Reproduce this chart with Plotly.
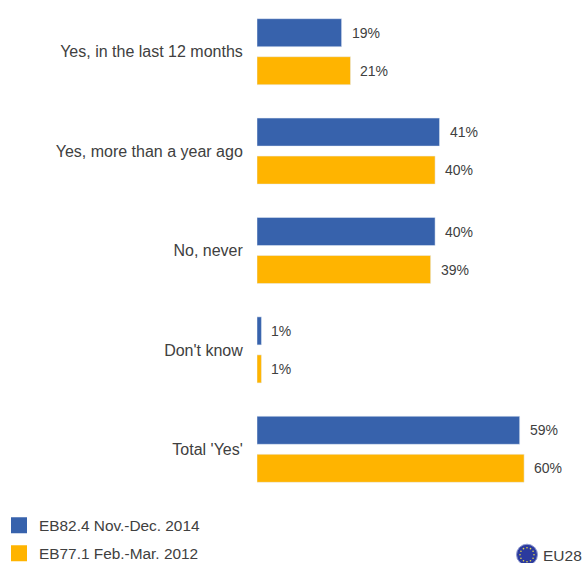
import math
import plotly.graph_objects as go

categories = ["Yes, in the last 12 months", "Yes, more than a year ago", "No, never", "Don't know", "Total 'Yes'"]
series_2014 = [19, 41, 40, 1, 59]
series_2012 = [21, 40, 39, 1, 60]
name_2014 = "EB82.4 Nov.-Dec. 2014"
name_2012 = "EB77.1 Feb.-Mar. 2012"
BLUE = "#3762AC"
ORANGE = "#FFB400"
TEXT = "#404040"
FONT = "Liberation Sans"
W, H = 582, 563
L, T, B = 257, 2.3, 499.3


def px(x):
    return (x - L) / (W - L)


def py(y):
    return (B - y) / (B - T)


fig = go.Figure()
fig.add_bar(y=categories, x=series_2014, orientation="h", marker_color=BLUE, showlegend=False, name=name_2014)
fig.add_bar(y=categories, x=series_2012, orientation="h", marker_color=ORANGE, showlegend=False, name=name_2012)
for nm, col in ((name_2014, BLUE), (name_2012, ORANGE)):
    fig.add_scatter(x=[None], y=[None], mode="markers", name=nm, legendgroup=nm,
                    marker=dict(symbol="square", size=17, color=col))

ann = []
for vals, shift in ((series_2014, 19), (series_2012, -19)):
    for c, v in zip(categories, vals):
        ann.append(dict(x=v, y=c, xref="x", yref="y", text=f"{v}%", showarrow=False,
                        xanchor="left", yanchor="middle", xshift=8, yshift=shift,
                        font=dict(family=FONT, size=14, color=TEXT)))
ann.append(dict(x=px(541), y=py(556), xref="paper", yref="paper", text="EU28", showarrow=False,
                xanchor="left", yanchor="middle", font=dict(family=FONT, size=15.5, color=TEXT)))

cx, cy, r = 527, 555, 10.5
shapes = [dict(type="circle", xref="paper", yref="paper", x0=px(cx - r), x1=px(cx + r),
               y0=py(cy + r), y1=py(cy - r),
               fillcolor="#2B3A9E", line=dict(color="#8F9AD0", width=1))]
for i in range(12):
    a = math.pi * i / 6
    sx, sy = cx + 7 * math.cos(a), cy + 7 * math.sin(a)
    shapes.append(dict(type="circle", xref="paper", yref="paper", x0=px(sx - 0.8), x1=px(sx + 0.8),
                       y0=py(sy + 0.8), y1=py(sy - 0.8),
                       fillcolor="#E8D84A", line=dict(width=0)))

fig.update_layout(
    width=W, height=H, autosize=False,
    margin=dict(l=L, r=0, t=T, b=H - B, autoexpand=False),
    paper_bgcolor="white", plot_bgcolor="white",
    barmode="group", bargap=0.235, bargroupgap=0.263,
    font=dict(family=FONT, color=TEXT, size=16),
    annotations=ann, shapes=shapes,
    xaxis=dict(range=[0, 73], visible=False),
    yaxis=dict(range=[4.5, -0.5], categoryorder="array", categoryarray=categories,
               showgrid=False, zeroline=False, showline=False,
               ticks="outside", ticklen=10, tickcolor="rgba(0,0,0,0)",
               tickfont=dict(family=FONT, size=16, color=TEXT)),
    legend=dict(x=px(-1), y=py(509), xanchor="left", yanchor="top", orientation="v",
                font=dict(family=FONT, size=15.4, color=TEXT), bgcolor="rgba(0,0,0,0)",
                itemsizing="trace", itemwidth=30, tracegroupgap=5, traceorder="grouped"),
)
fig.write_html("out.html", config={"displayModeBar": False},
               post_script="document.body.style.margin='0';document.body.style.overflow='hidden';")
